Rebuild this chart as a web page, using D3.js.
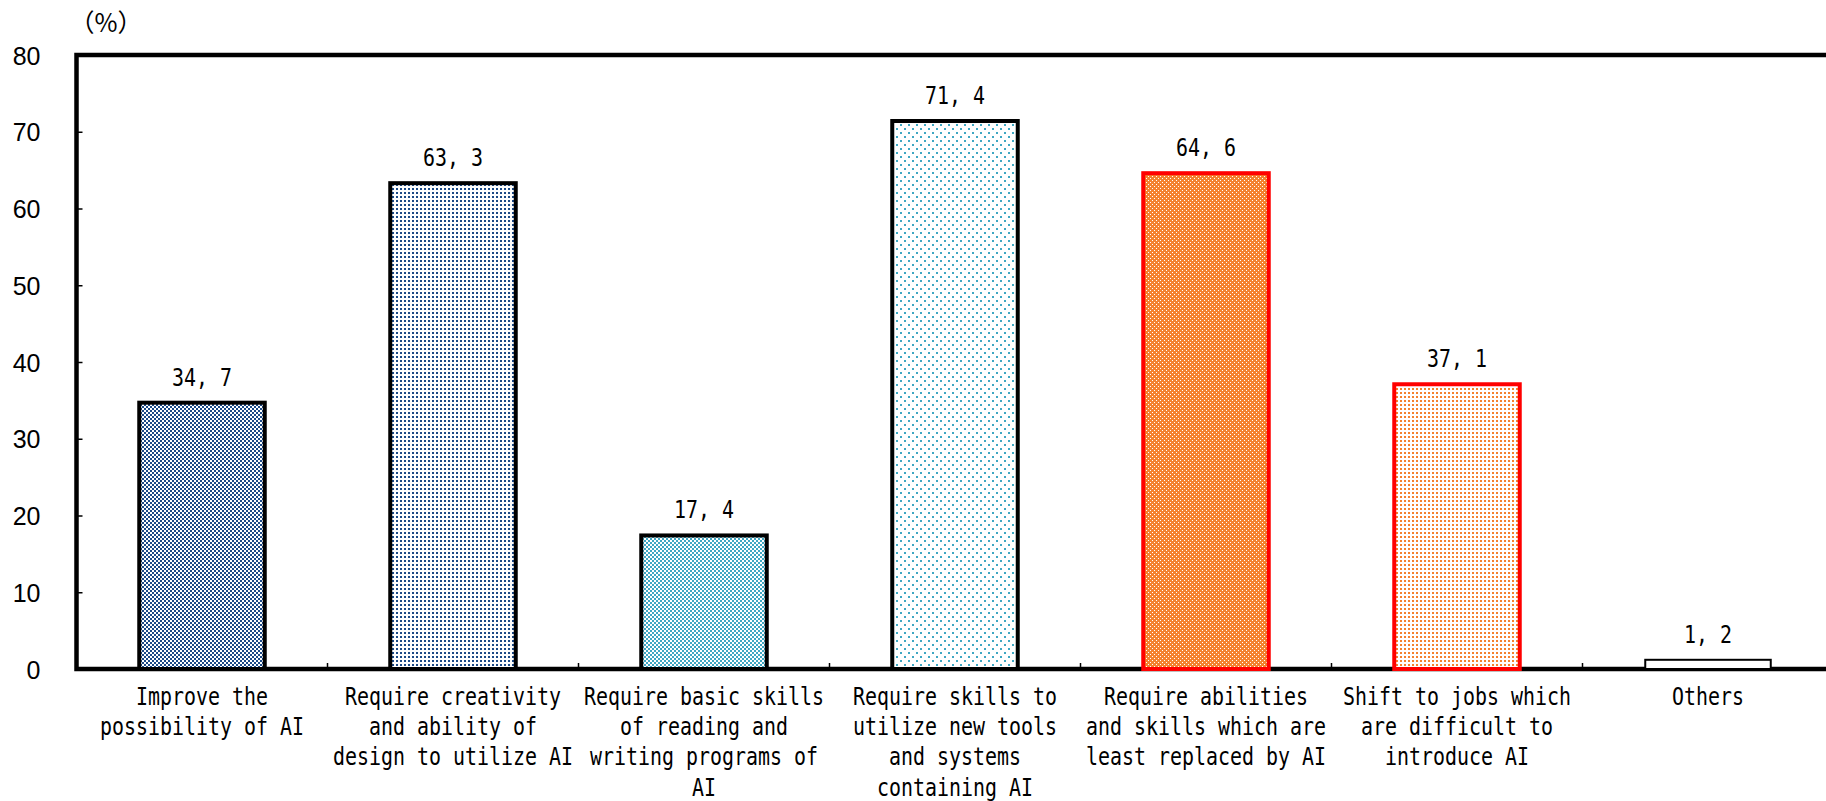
<!DOCTYPE html>
<html>
<head>
<meta charset="utf-8">
<script src="https://cdn.jsdelivr.net/npm/d3@7"></script>
<style>
  html, body { margin: 0; padding: 0; background: #fff; }
  svg { display: block; }
  .mono { font-family: "DejaVu Sans Mono", "Liberation Mono", monospace; font-size: 24px; fill: #000; }
  .ytick text { font-family: "Liberation Sans", Arial, sans-serif; font-size: 25px; fill: #000; }
  .unit { font-family: "Noto Sans CJK JP", "DejaVu Sans", sans-serif; font-size: 25px; fill: #000; }
</style>
</head>
<body>
<svg id="chart" width="1826" height="801"></svg>
<script>
// Survey answers (%), one bar per answer
const categoryLines = [
  ["Improve the", "possibility of AI"],
  ["Require creativity", "and ability of", "design to utilize AI"],
  ["Require basic skills", "of reading and", "writing programs of", "AI"],
  ["Require skills to", "utilize new tools", "and systems", "containing AI"],
  ["Require abilities", "and skills which are", "least replaced by AI"],
  ["Shift to jobs which", "are difficult to", "introduce AI"],
  ["Others"]
];
const values = [34.7, 63.3, 17.4, 71.4, 64.6, 37.1, 1.2];
const valueTicks = [0, 10, 20, 30, 40, 50, 60, 70, 80];
const unitLabel = "（%）";

// Bar appearance
const barPatterns = ["checkBlue", "dotBlue", "checkTeal", "dotTeal", "orangeWhiteDot", "dotOrange", "plain"];
const barStrokes = ["#000", "#000", "#000", "#000", "#ff0000", "#ff0000", "#000"];
const barStrokeWidths = [4, 4, 4, 4, 4, 4, 2];

const blue = "#1c4a86", teal = "#3fa7c3", orange = "#f4822f";

const svg = d3.select("#chart");
const margin = { left: 76.5, top: 55, right: -7.5, bottom: 132 };
const W = 1826, H = 801;
const x0 = margin.left, x1 = W - margin.right;
const y0 = H - margin.bottom, y1 = margin.top;

const cats = categoryLines.map((d, i) => i);
const x = d3.scaleBand().domain(cats).range([x0, x1]).paddingInner(0.5).paddingOuter(0.25);
const y = d3.scaleLinear().domain([0, 80]).range([y0, y1]);

// Fill patterns
const defs = svg.append("defs");
function pattern(id, size, bg, cells, color) {
  const p = defs.append("pattern").attr("id", id).attr("patternUnits", "userSpaceOnUse")
    .attr("width", size[0]).attr("height", size[1]);
  p.append("rect").attr("width", size[0]).attr("height", size[1]).attr("fill", bg);
  cells.forEach(c => p.append("rect").attr("x", c[0]).attr("y", c[1])
    .attr("width", c[2]).attr("height", c[3]).attr("fill", color)
    .attr("shape-rendering", "crispEdges"));
}
pattern("checkBlue", [4, 4], "#fff", [[0, 0, 2, 2], [2, 2, 2, 2]], blue);
pattern("dotBlue", [4, 4], "#fff", [[0, 0, 2, 2]], blue);
pattern("checkTeal", [4, 4], "#fff", [[0, 0, 2, 2], [2, 2, 2, 2]], teal);
pattern("dotTeal", [8, 8], "#fff", [[0, 0, 2, 2], [4, 4, 2, 2]], teal);
pattern("orangeWhiteDot", [4, 4], orange, [[0, 0, 1, 1], [2, 2, 1, 1]], "#fff");
pattern("dotOrange", [4, 4], "#fff", [[0, 0, 2, 2]], orange);

// Inward value ticks on the left edge
const yAxis = d3.axisLeft(y).tickValues(valueTicks).tickSize(-6).tickPadding(36).tickFormat(d3.format("d"));
const gy = svg.append("g").attr("class", "ytick").attr("transform", `translate(${x0},0)`).call(yAxis);
gy.select(".domain").remove();
gy.selectAll(".tick line").attr("stroke", "#000").attr("stroke-width", 1.5);
gy.selectAll(".tick text").attr("dy", "0.36em");

// Category separator ticks on the baseline
const step = x.step();
const seps = cats.slice(0, -1).map(i => x(i) + x.bandwidth() / 2 + step / 2);
svg.append("g").selectAll("line").data(seps).join("line")
  .attr("x1", d => d).attr("x2", d => d)
  .attr("y1", y0).attr("y2", y0 - 6)
  .attr("stroke", "#000").attr("stroke-width", 1.5);

// Plot frame
svg.append("path")
  .attr("d", `M${x1},${y1}H${x0}V${y0}H${x1}`)
  .attr("fill", "none").attr("stroke", "#000").attr("stroke-width", 4.5);

// Bars
svg.append("g").selectAll("rect").data(values).join("rect")
  .attr("x", (d, i) => x(i))
  .attr("y", d => y(d))
  .attr("width", x.bandwidth())
  .attr("height", d => y(0) - y(d))
  .attr("fill", (d, i) => barPatterns[i] === "plain" ? "#fff" : `url(#${barPatterns[i]})`)
  .attr("stroke", (d, i) => barStrokes[i])
  .attr("stroke-width", (d, i) => barStrokeWidths[i]);

const CH = 12; // advance of one half-width character
function monoText(sel) {
  sel.attr("class", "mono").attr("text-anchor", "middle")
    .attr("textLength", d => d.text.length * CH)
    .attr("lengthAdjust", "spacingAndGlyphs")
    .text(d => d.text);
}

// Value labels
const fmt = v => v.toFixed(1).replace(".", ", ");
svg.append("g").selectAll("text")
  .data(values.map((v, i) => ({ text: fmt(v), x: x(i) + x.bandwidth() / 2, y: y(v) - 17 })))
  .join("text")
  .attr("x", d => d.x).attr("y", d => d.y)
  .call(monoText);

// Category labels
const lineGap = 30.2;
const labelRows = [];
categoryLines.forEach((lines, i) => lines.forEach((t, j) =>
  labelRows.push({ text: t, x: x(i) + x.bandwidth() / 2, y: y0 + 36 + j * lineGap })));
svg.append("g").selectAll("text").data(labelRows).join("text")
  .attr("x", d => d.x).attr("y", d => d.y)
  .call(monoText);

// Unit label
svg.append("text").attr("class", "unit")
  .attr("x", 106).attr("y", 32).attr("text-anchor", "middle")
  .text(unitLabel);
</script>
</body>
</html>
